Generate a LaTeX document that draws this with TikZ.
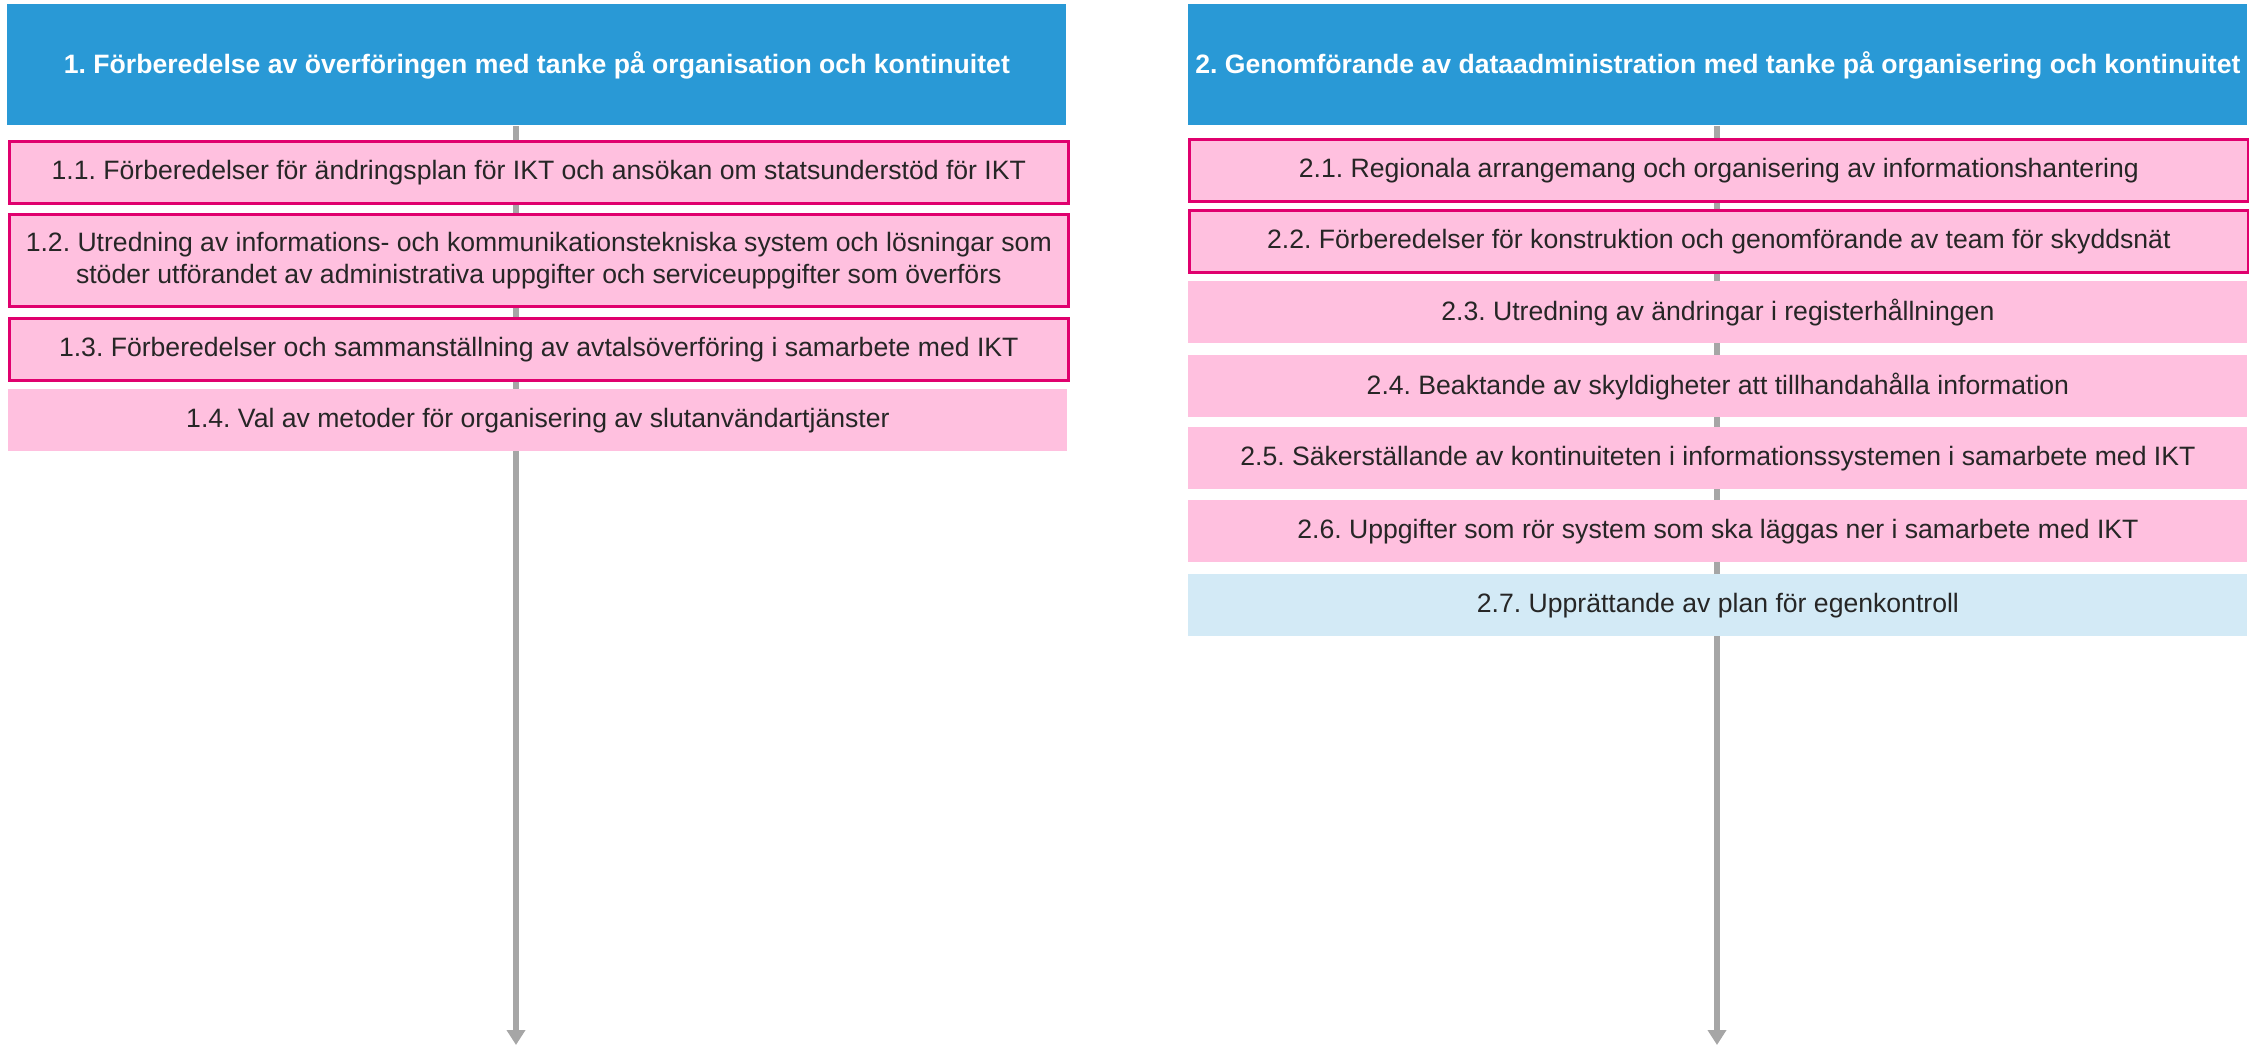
\documentclass[tikz,border=0pt]{standalone}
\usepackage{fontspec}
\setmainfont{Liberation Sans}
\usepackage{xcolor}
\usepackage{tikz}
\usetikzlibrary{arrows.meta,backgrounds}
\frenchspacing

\definecolor{headblue}{RGB}{41,153,214}
\definecolor{itempink}{RGB}{255,192,223}
\definecolor{markred}{RGB}{224,0,110}
\definecolor{planblue}{RGB}{211,234,246}
\definecolor{linegray}{RGB}{166,166,166}
\definecolor{txtgray}{RGB}{38,38,38}

\begin{document}
\begin{tikzpicture}[x=0.5pt,y=-0.5pt,
  head/.style={anchor=north west,fill=headblue,text=white,inner sep=0pt,align=center,
    minimum width=529.5pt,minimum height=60.5pt,font=\fontsize{13.3}{16}\selectfont\bfseries},
  item/.style={anchor=north west,fill=itempink,text=txtgray,inner sep=0pt,align=center,
    minimum width=529.5pt,minimum height=31pt,font=\fontsize{13.3}{16}\selectfont},
  marked/.style={item,draw=markred,line width=1.3pt},
  plan/.style={item,fill=planblue},
  flowline/.style={draw=linegray,line width=3pt,-{Triangle[width=9pt,length=7.5pt]}}]
\useasboundingbox (0,0) rectangle (2249,1045);% whole picture, coordinates in px
% left column
\node[head] (h1) at (7,4) {1. Förberedelse av överföringen med tanke på organisation och kontinuitet};
\node[marked] (b11) at (8,140) {1.1. Förberedelser för ändringsplan för IKT och ansökan om statsunderstöd för IKT};
\node[marked,minimum height=46pt] (b12) at (8,213) {1.2. Utredning av informations- och kommunikationstekniska system och lösningar som\\stöder utförandet av administrativa uppgifter och serviceuppgifter som överförs};
\node[marked] (b13) at (8,317) {1.3. Förberedelser och sammanställning av avtalsöverföring i samarbete med IKT};
\node[item] (b14) at (8,389) {1.4. Val av metoder för organisering av slutanvändartjänster};
% right column
\node[head] (h2) at (1188,4) {2. Genomförande av dataadministration med tanke på organisering och kontinuitet};
\node[marked] (b21) at (1188,138) {2.1. Regionala arrangemang och organisering av informationshantering};
\node[marked] (b22) at (1188,209) {2.2. Förberedelser för konstruktion och genomförande av team för skyddsnät};
\node[item] (b23) at (1188,281) {2.3. Utredning av ändringar i registerhållningen};
\node[item] (b24) at (1188,355) {2.4. Beaktande av skyldigheter att tillhandahålla information};
\node[item] (b25) at (1188,427) {2.5. Säkerställande av kontinuiteten i informationssystemen i samarbete med IKT};
\node[item] (b26) at (1188,500) {2.6. Uppgifter som rör system som ska läggas ner i samarbete med IKT};
\node[plan] (b27) at (1188,574) {2.7. Upprättande av plan för egenkontroll};
% arrows behind the boxes
\coordinate (endL) at (516,1045);
\coordinate (endR) at (1717,1045);
\begin{scope}[on background layer]
\draw[flowline] (h1.south -| endL) -- (endL);
\draw[flowline] (h2.south -| endR) -- (endR);
\end{scope}
\end{tikzpicture}
\end{document}
